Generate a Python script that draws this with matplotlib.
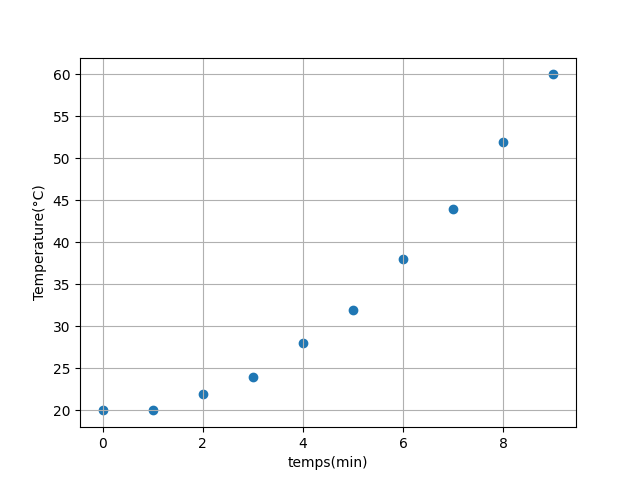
import matplotlib
matplotlib.use("Agg")
import matplotlib.pyplot as plt

temps = [0, 1, 2, 3, 4, 5, 6, 7, 8, 9]
temperature = [20, 20, 22, 24, 28, 32, 38, 44, 52, 60]

fig = plt.figure(figsize=(6.4, 4.8), dpi=100)
plt.scatter(temps, temperature)
plt.xlabel("temps(min)")
plt.ylabel("Temperature(°C)")
plt.grid()

plt.savefig("out.png")
